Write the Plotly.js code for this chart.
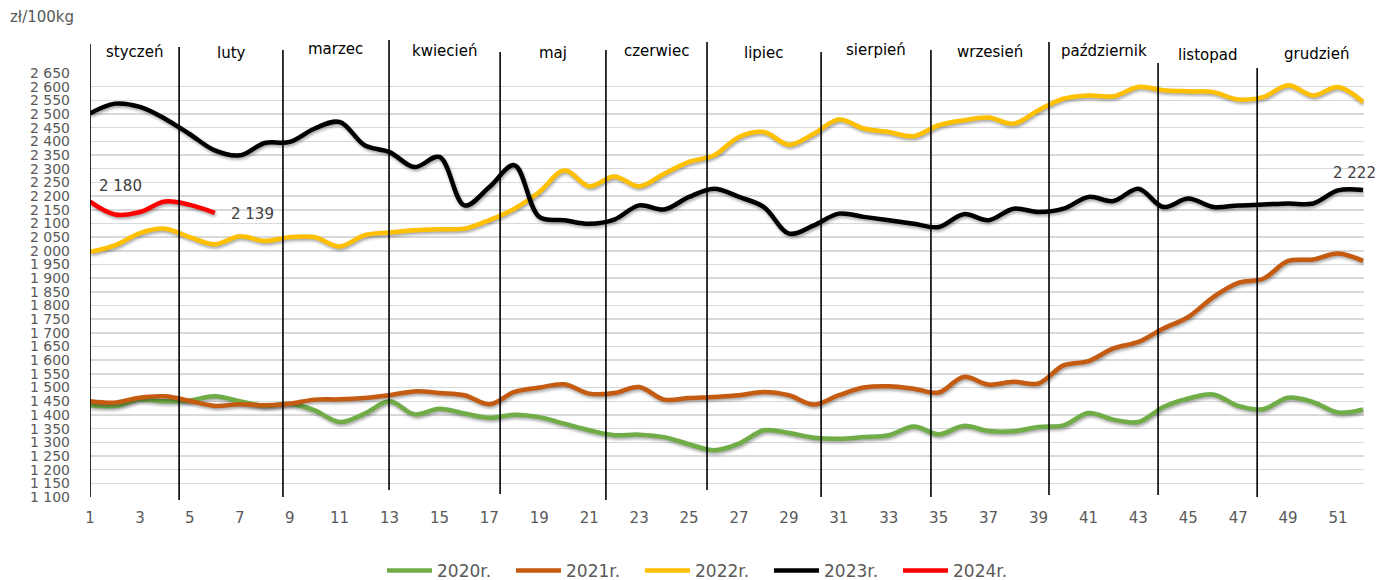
<!DOCTYPE html>
<html>
<head>
<meta charset="utf-8">
<script src="https://cdn.plot.ly/plotly-3.0.1.min.js"></script>
<style>
  html, body { margin: 0; padding: 0; background: #fff; }
  #chart { width: 1378px; height: 580px; }
  .scatterlayer .js-line { filter: drop-shadow(1.5px 2.5px 1.5px rgba(0,0,0,0.35)); }
</style>
</head>
<body>
<div id="chart"></div>
<script>
// ---- data ----
const weeks = [1,2,3,4,5,6,7,8,9,10,11,12,13,14,15,16,17,18,19,20,21,22,23,24,25,26,
               27,28,29,30,31,32,33,34,35,36,37,38,39,40,41,42,43,44,45,46,47,48,49,50,51,52];
const seriesNames = ['2020r.', '2021r.', '2022r.', '2023r.', '2024r.'];
const y2020 = [1435,1433,1456,1450,1453,1468,1450,1433,1441,1417,
               1374,1405,1450,1402,1423,1405,1390,1401,1392,1368,
               1344,1326,1328,1319,1293,1271,1295,1344,1334,1317,
               1313,1319,1326,1358,1329,1360,1341,1340,1356,1362,
               1407,1383,1374,1429,1460,1475,1433,1421,1463,1447,
               1409,1420];
const y2021 = [1450,1445,1463,1468,1451,1433,1439,1435,1441,1456,
               1457,1462,1472,1486,1480,1472,1439,1484,1500,1512,
               1478,1480,1502,1456,1462,1466,1472,1484,1472,1438,
               1472,1500,1505,1496,1482,1539,1511,1521,1515,1581,
               1597,1643,1667,1716,1758,1831,1883,1898,1963,1968,
               1990,1963];
const y2022 = [1996,2020,2065,2081,2050,2024,2053,2036,2050,2050,
               2016,2057,2067,2075,2079,2081,2112,2154,2215,2294,
               2236,2272,2236,2282,2325,2349,2416,2434,2388,2428,
               2480,2447,2434,2419,2459,2477,2487,2465,2514,2556,
               2568,2565,2599,2587,2583,2580,2553,2562,2605,2568,
               2599,2544];
const y2023 = [2502,2538,2526,2483,2426,2367,2349,2394,2398,2447,
               2471,2386,2361,2306,2343,2166,2233,2313,2124,2112,
               2099,2114,2166,2151,2197,2227,2197,2160,2063,2093,
               2136,2124,2112,2099,2087,2134,2112,2154,2142,2154,
               2197,2182,2227,2160,2191,2160,2166,2169,2173,2173,
               2221,2222];
const y2024 = [2180,2133,2142,2180,2168,2139];
const months = ['styczeń','luty','marzec','kwiecień','maj','czerwiec','lipiec',
                'sierpień','wrzesień','październik','listopad','grudzień'];
// month boundaries in week units
const monthBounds = [1, 4.57, 8.73, 12.98, 17.43, 21.67, 25.72, 30.29, 34.69, 39.42, 43.79, 47.76, 52.52];
const yTickVals = [1100,1150,1200,1250,1300,1350,1400,1450,1500,1550,1600,1650,1700,1750,
                   1800,1850,1900,1950,2000,2050,2100,2150,2200,2250,2300,2350,2400,2450,
                   2500,2550,2600,2650];
const xTickVals = [1,3,5,7,9,11,13,15,17,19,21,23,25,27,29,31,33,35,37,39,41,43,45,47,49,51];
const unitLabel = 'zł/100kg';

// ---- styling ----
const colors = ['#70ad47', '#c55a11', '#ffc000', '#000000', '#ff0000'];
const allY = [y2020, y2021, y2022, y2023, y2024];
const FONT = 'DejaVu Sans, sans-serif';
const fmt = v => String(v).replace(/\B(?=(\d{3})+(?!\d))/g, ' ');

const traces = allY.map((ys, i) => ({
  type: 'scatter', mode: 'lines',
  x: weeks.slice(0, ys.length), y: ys,
  name: seriesNames[i],
  line: { color: colors[i], width: 4.5, shape: 'spline', smoothing: 1 },
  hoverinfo: 'x+y'
}));

const plotTop = 73, plotBottom = 497, plotH = plotBottom - plotTop;
const py = p => (plotBottom - p) / plotH; // pixel -> paper y

const lineTops = [44, 47, 50, 40, 52, 50, 42, 52, 50, 42, 63, 68, 40];
const lineBots = [497, 500, 497, 490, 494, 500, 490, 497, 497, 495, 495, 497, 497];
const shapes = monthBounds.map((b, i) => ({
  type: 'line', xref: 'x', yref: 'paper',
  x0: b, x1: b, y0: py(lineBots[i]), y1: py(lineTops[i]),
  line: { color: '#000', width: 1.6 }
}));

const monthY = [52, 53, 49, 51, 53, 51, 53, 50, 52, 51, 55, 54];
const annotations = months.map((m, i) => ({
  text: m, xref: 'x', yref: 'paper',
  x: (monthBounds[i] + monthBounds[i + 1]) / 2, y: py(monthY[i]),
  showarrow: false, xanchor: 'center', yanchor: 'middle',
  font: { family: FONT, size: 15, color: '#000' }
}));

annotations.push({
  text: unitLabel, xref: 'paper', yref: 'paper',
  x: (8 - 90) / 1274, y: py(17), xanchor: 'left', yanchor: 'middle',
  showarrow: false, font: { family: FONT, size: 15, color: '#595959' }
});

const dataLabel = (xv, yv, dx, dy) => ({
  text: fmt(yv), xref: 'x', yref: 'y', x: xv, y: yv,
  xshift: dx, yshift: dy, showarrow: false,
  font: { family: FONT, size: 15, color: '#404040' }
});
annotations.push(dataLabel(weeks[0], y2024[0], 30, 16));
annotations.push(dataLabel(weeks[y2024.length - 1], y2024[y2024.length - 1], 38, -1));
annotations.push(dataLabel(weeks[weeks.length - 1], y2023[y2023.length - 1], -9, 17));

const layout = {
  width: 1378, height: 580,
  margin: { l: 90, r: 14, t: plotTop, b: 580 - plotBottom, pad: 0 },
  paper_bgcolor: '#fff', plot_bgcolor: '#fff',
  separators: '. ',
  font: { family: FONT, color: '#595959' },
  showlegend: true,
  legend: {
    orientation: 'h', xref: 'container', yref: 'container',
    x: 382 / 1378, xanchor: 'left', y: (580 - 571) / 580, yanchor: 'middle',
    font: { family: FONT, size: 17, color: '#595959' },
    itemwidth: 45, entrywidth: 69, entrywidthmode: 'pixels',
    bgcolor: 'rgba(0,0,0,0)', traceorder: 'normal'
  },
  xaxis: {
    range: [1, 52.04], tickmode: 'array', tickvals: xTickVals,
    showgrid: false, zeroline: false, showline: false, ticks: '',
    ticklabelstandoff: 10,
    tickfont: { family: FONT, size: 15, color: '#595959' }
  },
  yaxis: {
    range: [1100, 2650], tickmode: 'array', tickvals: yTickVals, tickformat: ',d',
    showgrid: true, gridcolor: '#d9d9d9', gridwidth: 1.5,
    zeroline: false, showline: false, ticks: '',
    ticklabelstandoff: 19,
    tickfont: { family: FONT, size: 14, color: '#595959' }
  },
  shapes: shapes,
  annotations: annotations
};

Plotly.newPlot('chart', traces, layout, { displayModeBar: false, staticPlot: true });
</script>
</body>
</html>
